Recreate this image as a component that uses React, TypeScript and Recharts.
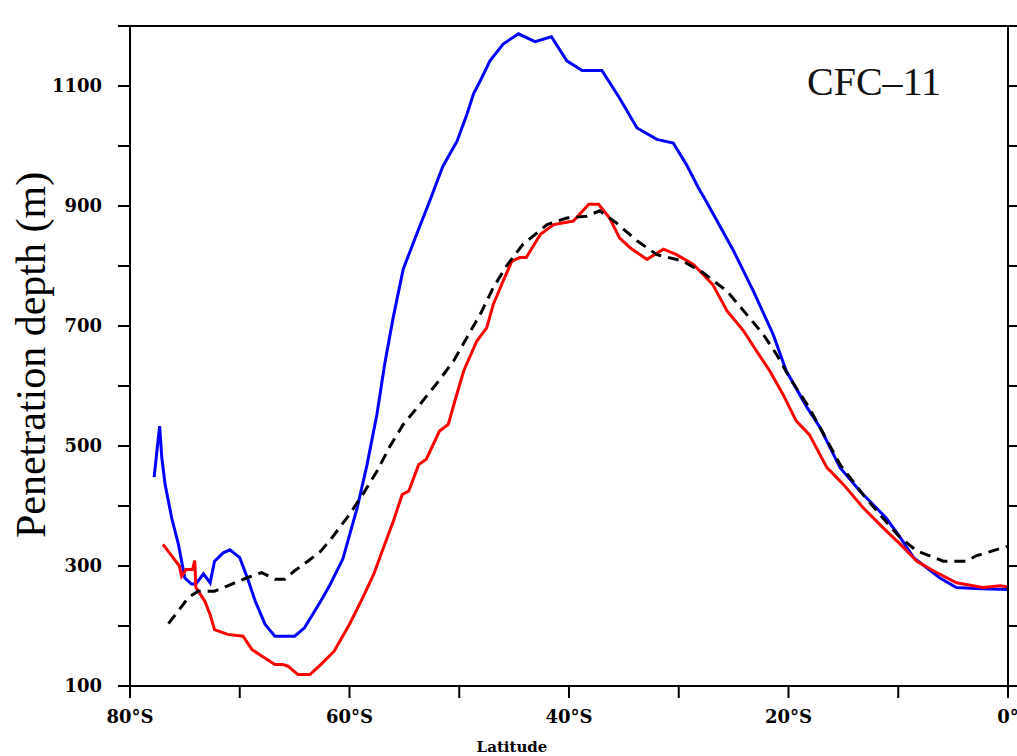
import { LineChart, Line, XAxis, YAxis, Label } from "recharts";

// latitude (negative = south) and penetration depth (m) per curve
const blueLat = [-77.8, -77.5, -77.3, -77.1, -76.8, -76.2, -75.6, -75.0, -74.4, -74.0, -73.3, -72.7, -72.3, -71.5, -70.9, -70.0, -69.3, -68.6, -67.7, -66.8, -65.0, -64.1, -62.6, -61.8, -60.6, -59.3, -58.4, -57.5, -56.8, -56.0, -55.1, -53.9, -52.7, -51.5, -50.2, -49.3, -48.7, -48.1, -47.2, -46.0, -44.6, -43.1, -41.6, -40.2, -38.8, -37.0, -35.4, -33.8, -32.0, -30.5, -29.3, -28.2, -27.5, -25.0, -23.2, -21.4, -20.2, -18.3, -17.1, -15.3, -13.5, -11.1, -9.8, -8.6, -6.2, -4.7, -2.5, 0];
const blueDepth = [448, 500, 533, 480, 436, 380, 337, 280, 270, 270, 287, 272, 308, 322, 327, 314, 280, 242, 203, 183, 183, 197, 242, 268, 312, 397, 469, 553, 636, 716, 795, 852, 908, 966, 1008, 1053, 1087, 1108, 1142, 1170, 1187, 1174, 1182, 1142, 1126, 1126, 1080, 1030, 1011, 1005, 969, 930, 908, 825, 758, 686, 625, 564, 530, 464, 425, 380, 347, 314, 280, 264, 262, 261];

const redLat = [-77.0, -76.2, -75.5, -75.3, -74.9, -74.3, -74.1, -74.0, -73.2, -72.7, -72.3, -72.0, -71.1, -69.7, -68.9, -68.0, -66.8, -66.1, -65.6, -64.7, -63.6, -62.6, -61.4, -60.0, -58.8, -57.8, -56.9, -56.0, -55.2, -54.6, -53.7, -53.0, -51.8, -51.0, -50.4, -49.6, -48.4, -47.5, -46.9, -46.0, -45.2, -44.5, -43.9, -42.6, -41.4, -39.6, -38.2, -37.3, -36.3, -35.4, -34.4, -32.9, -31.4, -30.2, -28.7, -28.1, -26.9, -25.6, -24.1, -22.9, -21.7, -20.5, -19.3, -18.1, -16.5, -15.0, -13.2, -11.4, -9.8, -8.3, -6.8, -4.7, -2.3, -0.7, 0];
const redDepth = [336, 317, 300, 283, 294, 294, 309, 264, 242, 219, 194, 192, 186, 183, 161, 150, 136, 136, 133, 119, 119, 136, 158, 203, 247, 286, 331, 375, 419, 425, 469, 478, 525, 536, 575, 625, 675, 697, 736, 775, 808, 814, 814, 853, 869, 875, 903, 903, 880, 847, 830, 811, 828, 819, 803, 792, 769, 725, 692, 658, 625, 586, 542, 519, 464, 436, 397, 364, 336, 308, 292, 272, 264, 267, 265];

const blackLat = [-76.5, -75.6, -74.7, -73.8, -72.3, -71.1, -69.4, -68.0, -66.8, -65.9, -65.0, -63.8, -62.6, -61.6, -60.0, -58.8, -57.5, -56.3, -55.1, -53.6, -52.1, -50.5, -49.3, -48.1, -46.9, -45.7, -44.2, -42.0, -40.2, -38.4, -37.2, -35.7, -33.8, -32.0, -29.6, -27.8, -25.6, -23.8, -22.3, -21.1, -19.9, -18.3, -17.1, -15.3, -13.2, -11.4, -9.8, -8.3, -5.9, -3.8, -2.9, 0];
const blackDepth = [204, 225, 247, 258, 258, 267, 280, 289, 278, 278, 292, 308, 325, 347, 386, 419, 458, 500, 536, 569, 603, 642, 681, 719, 764, 800, 836, 869, 880, 883, 892, 872, 842, 819, 808, 789, 758, 719, 686, 653, 614, 569, 530, 469, 419, 380, 347, 325, 308, 308, 317, 333];

const latTicks = [-80, -70, -60, -50, -40, -30, -20, -10, 0];
const depthTicks = [100, 200, 300, 400, 500, 600, 700, 800, 900, 1000, 1100, 1200];

const toPoints = (lat: number[], depth: number[]) =>
  lat.map((x, i) => ({ lat: x, depth: depth[i] }));

const blueData = toPoints(blueLat, blueDepth);
const redData = toPoints(redLat, redDepth);
const blackData = toPoints(blackLat, blackDepth);

const latLabel = (v: number) => {
  if (v % 20 !== 0) return "";
  return v === 0 ? "0°" : `${-v}°S`;
};
const depthLabel = (v: number) => (v % 200 === 100 && v < 1200 ? String(v) : "");

const axisStyle = { stroke: "#000", strokeWidth: 2 };
const tickFont = { fill: "#000", fontFamily: "DejaVu Serif", fontWeight: "bold", fontSize: 18 };

export default function App() {
  return (
    <div style={{ position: "absolute", left: 0, top: 0, background: "#fff" }}>
      <LineChart width={1017} height={756} margin={{ top: 0, right: 0, bottom: 0, left: 0 }}>
        <XAxis
          xAxisId="bottom"
          dataKey="lat"
          type="number"
          domain={[-80, 0]}
          ticks={latTicks}
          interval={0}
          tickFormatter={latLabel}
          height={70}
          tickSize={12}
          tickMargin={12}
          axisLine={axisStyle}
          tickLine={axisStyle}
          tick={tickFont}
          allowDataOverflow
        >
          <Label
            content={() => (
              <text x={512} y={752} textAnchor="middle" fontFamily="DejaVu Serif" fontWeight="bold" fontSize={15} fill="#000">
                Latitude
              </text>
            )}
          />
        </XAxis>
        <XAxis
          xAxisId="top"
          orientation="top"
          type="number"
          domain={[-80, 0]}
          ticks={latTicks}
          interval={0}
          tickFormatter={() => ""}
          height={26}
          tickSize={12}
          axisLine={axisStyle}
          tickLine={axisStyle}
          allowDataOverflow
        >
          <Label
            content={() => (
              <text x={807} y={95} textAnchor="start" fontFamily="Liberation Serif" fontSize={40} fill="#111">
                CFC–11
              </text>
            )}
          />
        </XAxis>
        <YAxis
          yAxisId="left"
          type="number"
          domain={[100, 1200]}
          ticks={depthTicks}
          interval={0}
          tickFormatter={depthLabel}
          width={130}
          tickSize={12}
          tickMargin={16}
          axisLine={axisStyle}
          tickLine={axisStyle}
          tick={tickFont}
          allowDataOverflow
        >
          <Label
            content={() => (
              <text
                x={45}
                y={355}
                transform="rotate(-90 45 355)"
                textAnchor="middle"
                fontFamily="Liberation Serif"
                fontSize={42}
                fill="#000"
              >
                Penetration depth (m)
              </text>
            )}
          />
        </YAxis>
        <YAxis
          yAxisId="right"
          orientation="right"
          type="number"
          domain={[100, 1200]}
          ticks={depthTicks}
          interval={0}
          tickFormatter={() => ""}
          width={9}
          tickSize={12}
          axisLine={axisStyle}
          tickLine={axisStyle}
          allowDataOverflow
        />
        <Line
          xAxisId="bottom"
          yAxisId="left"
          data={blueData}
          dataKey="depth"
          type="linear"
          stroke="#0000ff"
          strokeWidth={3}
          dot={false}
          isAnimationActive={false}
        />
        <Line
          xAxisId="bottom"
          yAxisId="left"
          data={redData}
          dataKey="depth"
          type="linear"
          stroke="#ff0000"
          strokeWidth={3}
          dot={false}
          isAnimationActive={false}
        />
        <Line
          xAxisId="bottom"
          yAxisId="left"
          data={blackData}
          dataKey="depth"
          type="linear"
          stroke="#000"
          strokeWidth={3}
          strokeDasharray="11 7"
          dot={false}
          isAnimationActive={false}
        />
      </LineChart>
    </div>
  );
}
